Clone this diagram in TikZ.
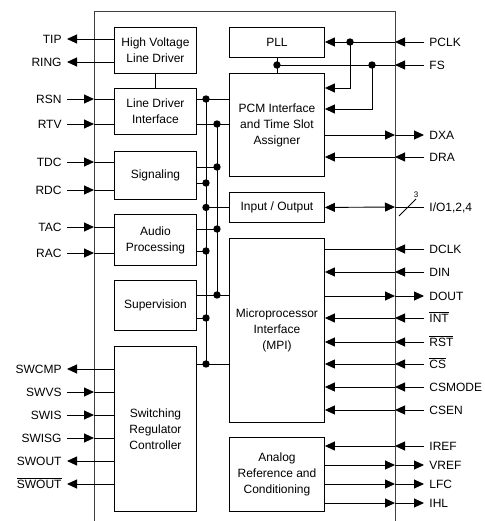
\documentclass[tikz,border=0pt]{standalone}
\usepackage{fontspec}
\setmainfont{Liberation Sans}
\usetikzlibrary{arrows.meta}
\newcommand{\barsig}[1]{$\overline{\hbox{#1}}$}

\begin{document}
\begin{tikzpicture}[x=1pt,y=-1pt,line width=0.9pt,
  box/.style={draw,anchor=north west,align=center,inner sep=0pt,
    font=\fontsize{12}{16}\selectfont},
  lsig/.style={anchor=east,inner xsep=5pt,inner ysep=0pt,text height=8.6pt,
    text depth=0pt,font=\fontsize{12}{14}\selectfont},
  rsig/.style={lsig,anchor=west},
  arr/.style={-{Triangle[length=10pt,width=9pt]}},
  biarr/.style={{Triangle[length=10pt,width=9pt]}-{Triangle[length=10pt,width=9pt]}},
  jct/.style={circle,fill,inner sep=0pt,minimum size=7.4pt}]
\pgfmathsetmacro{\xL}{94}
\pgfmathsetmacro{\xR}{395}

\useasboundingbox (0,0) rectangle (484,521);
\coordinate (L) at (\xL,0);
\coordinate (R) at (\xR,0);
\coordinate (busA) at (206,0);
\coordinate (busB) at (217,0);
\draw[black!75,line width=1pt] (\xL,521) |- (\xR,12) -- (\xR,521);

\node[box,minimum width=82pt,minimum height=46pt] (hv) at (114,27) {High Voltage\\Line Driver};
\node[box,minimum width=82pt,minimum height=46pt] (ldi) at (114,88) {Line Driver\\Interface};
\node[box,minimum width=82pt,minimum height=48pt] (sig) at (114,151) {Signaling};
\node[box,minimum width=82pt,minimum height=51pt] (aud) at (114,214) {Audio\\Processing};
\node[box,minimum width=82pt,minimum height=50pt] (sup) at (114,280) {Supervision};
\node[box,minimum width=82pt,minimum height=165pt] (swr) at (114,346) {Switching\\Regulator\\Controller};
\node[box,minimum width=95pt,minimum height=30pt] (pll) at (229,27) {PLL};
\node[box,minimum width=95pt,minimum height=103pt] (pcm) at (229,73) {PCM Interface\\and Time Slot\\Assigner};
\node[box,minimum width=95pt,minimum height=30pt] (io) at (229,192) {Input / Output};
\node[box,minimum width=95pt,minimum height=184pt] (mpi) at (229,238) {Microprocessor\\Interface\\(MPI)};
\node[box,minimum width=95pt,minimum height=74pt] (ana) at (229,437) {Analog\\Reference and\\Conditioning};

\draw (hv) -- (ldi);
\draw (pll) -- (pcm);

\draw (busA |- 0,99) -- (busA |- 0,364);
\draw (busB |- 0,124) -- (busB |- 0,295);
\foreach \bx/\y/\tg/\bus in {ldi/99/pcm/busA, ldi/124/pcm/busB, sup/295/mpi/busB, swr/364/mpi/busA} {
  \draw (\bx.east |- 0,\y) -- (\tg.west |- 0,\y);
  \node[jct] at (\bus |- 0,\y) {};
}
\foreach \bx/\y/\bus in {sig/167/busB, sig/183/busA, aud/229/busB, aud/251/busA, sup/318/busA}
  \draw (\bx.east |- 0,\y) -- (\bus |- 0,\y) node[jct] {};
\draw (busA |- io) node[jct] {} -- (io.west);

\foreach \nm/\txt/\y/\bx in {tip/TIP/39/hv, ring/RING/62/hv, swcmp/SWCMP/369/swr,
    swout/SWOUT/461/swr, swoutn/\barsig{SWOUT}/484/swr} {
  \node[lsig] (\nm) at (67,\y) {\txt};
  \draw[arr] (\bx.west |- \nm) -- (\nm);
}
\foreach \nm/\txt/\y/\bx in {rsn/RSN/99/ldi, rtv/RTV/124/ldi, tdc/TDC/162/sig, rdc/RDC/190/sig,
    tac/TAC/227/aud, rac/RAC/253/aud, swvs/SWVS/392/swr, swis/SWIS/415/swr, swisg/SWISG/438/swr} {
  \node[lsig] (\nm) at (67,\y) {\txt};
  \draw[arr] (\nm) -- (L |- \nm);
  \draw (L |- \nm) -- (\bx.west |- \nm);
}

\foreach \nm/\txt/\y/\bx in {dra/DRA/157/pcm, din/DIN/272/mpi, int/\barsig{INT}/318/mpi,
    rst/\barsig{RST}/342/mpi, cs/\barsig{CS}/364/mpi, csmode/CSMODE/387/mpi,
    csen/CSEN/410/mpi, iref/IREF/446/ana} {
  \node[rsig] (\nm) at (424,\y) {\txt};
  \draw[arr] (\nm) -- (R |- \nm);
  \draw[arr] (R |- \nm) -- (\bx.east |- \nm);
}
\foreach \nm/\txt/\y/\bx in {dxa/DXA/135/pcm, dout/DOUT/296/mpi, vref/VREF/465/ana,
    lfc/LFC/484/ana, ihl/IHL/503/ana} {
  \node[rsig] (\nm) at (424,\y) {\txt};
  \draw[arr] (\bx.east |- \nm) -- (R |- \nm);
  \draw[arr] (R |- \nm) -- (\nm);
}
\node[rsig] (dclk) at (424,249) {DCLK};
\draw[arr] (dclk) -- (R |- dclk);
\draw (R |- dclk) -- (mpi.east |- dclk);

\node[rsig] (iop) at (424,207) {I/O1,2,4};
\draw[biarr] (io.east) -- (R |- iop);
\draw (R |- iop) -- (iop);
\draw (399,216) -- (416,199) node[above,inner sep=1pt,font=\fontsize{8}{9}\selectfont] {3};

\node[rsig] (pclk) at (424,42) {PCLK};
\draw[arr] (pclk) -- (R |- pclk);
\draw[arr] (R |- pclk) -- (pll.east |- pclk);
\node[jct] (jp) at (350,42) {};
\draw[arr] (jp.center) |- ([yshift=-15pt]pcm.north east);

\node[rsig] (fs) at (424,65) {FS};
\draw[arr] (fs) -- (R |- fs);
\draw (R |- fs) -- (pll.south |- fs) node[jct] {};
\node[jct] (jf) at (372,65) {};
\draw[arr] (jf.center) |- ([yshift=-36pt]pcm.north east);
\end{tikzpicture}
\end{document}
